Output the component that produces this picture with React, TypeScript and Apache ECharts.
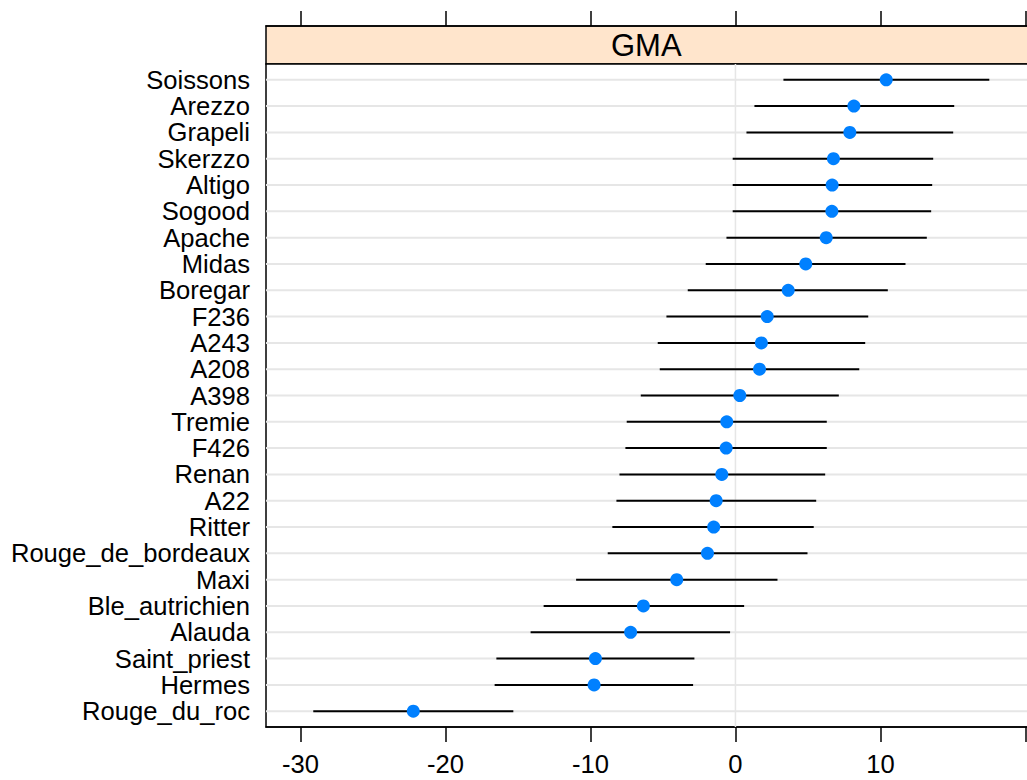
import React, { useEffect, useRef } from "react";
import * as echarts from "echarts";

const panelTitle = "GMA";
const varieties = [
  "Soissons", "Arezzo", "Grapeli", "Skerzzo", "Altigo", "Sogood", "Apache", "Midas",
  "Boregar", "F236", "A243", "A208", "A398", "Tremie", "F426", "Renan", "A22", "Ritter",
  "Rouge_de_bordeaux", "Maxi", "Ble_autrichien", "Alauda", "Saint_priest", "Hermes", "Rouge_du_roc",
];
const estimate = [
  10.4, 8.17, 7.89, 6.76, 6.67, 6.65, 6.26, 4.85, 3.64, 2.19, 1.79, 1.66, 0.3, -0.6, -0.64,
  -0.94, -1.33, -1.5, -1.93, -4.05, -6.35, -7.23, -9.66, -9.75, -22.22,
];
const lower = [
  3.31, 1.31, 0.76, -0.19, -0.19, -0.19, -0.62, -2.05, -3.29, -4.76, -5.36, -5.22, -6.53,
  -7.5, -7.59, -8.0, -8.21, -8.49, -8.81, -10.99, -13.23, -14.13, -16.49, -16.61, -29.12,
];
const upper = [
  17.51, 15.09, 15.02, 13.64, 13.57, 13.5, 13.2, 11.73, 10.51, 9.16, 8.95, 8.54, 7.13, 6.3,
  6.3, 6.19, 5.57, 5.4, 4.97, 2.9, 0.6, -0.37, -2.83, -2.92, -15.32,
];
const xTicks = [-30, -20, -10, 0, 10, 20];
const xTickLabels = [-30, -20, -10, 0, 10];
const xMin = -32.38;
const xMax = 20.8;

const FONT = "Liberation Sans, Arial, sans-serif";

export default function App() {
  const ref = useRef<HTMLDivElement>(null);
  useEffect(() => {
    if (!ref.current) return;
    const chart = echarts.init(ref.current, undefined, { renderer: "svg" });
    const rowIdx = varieties.map((_, i) => i + 1);
    const tickStyle = { color: "#000", width: 1.5 };
    const option: any = {
      animation: false,
      backgroundColor: "#ffffff",
      textStyle: { fontFamily: FONT },
      grid: [
        {
          left: 266, right: 3, top: 26, height: 38, show: true,
          backgroundColor: "#ffe5cc", borderColor: "#000", borderWidth: 1.5,
        },
        {
          left: 266, right: 3, top: 64, bottom: 53, show: true,
          backgroundColor: "#ffffff", borderColor: "#000", borderWidth: 1.5,
        },
      ],
      xAxis: [
        {
          type: "value", gridIndex: 1, position: "bottom", min: xMin, max: xMax,
          axisLine: { show: true, onZero: false, lineStyle: tickStyle },
          axisTick: { show: true, inside: false, length: 15, customValues: xTicks, lineStyle: tickStyle },
          axisLabel: { show: true, customValues: xTickLabels, fontSize: 25.6, color: "#000", margin: 24, fontFamily: FONT },
          splitLine: { show: false },
        },
        {
          type: "value", gridIndex: 0, position: "top", min: xMin, max: xMax,
          axisLine: { show: true, onZero: false, lineStyle: tickStyle },
          axisTick: { show: true, inside: false, length: 15, customValues: xTicks, lineStyle: tickStyle },
          axisLabel: { show: false },
          splitLine: { show: false },
        },
      ],
      yAxis: [
        {
          type: "value", gridIndex: 1, min: 0.4, max: 25.6, inverse: true,
          axisLine: { show: false, onZero: false }, axisTick: { show: false }, splitLine: { show: false },
          axisLabel: {
            show: true, customValues: rowIdx, fontSize: 25.6, color: "#000", margin: 16, fontFamily: FONT,
            formatter: (v: number) => varieties[Math.round(v) - 1] ?? "",
          },
        },
        { type: "value", gridIndex: 0, min: 0, max: 1, show: false, axisLine: { onZero: false } },
      ],
      graphic: [
        {
          type: "text", left: 651 - 40, top: 30, z: 100,
          style: { text: panelTitle, fontSize: 31, fill: "#000", fontFamily: FONT, width: 80, align: "center" },
        },
      ],
      series: [
        {
          type: "custom", xAxisIndex: 0, yAxisIndex: 0, z: 1, silent: true,
          data: rowIdx.map((r) => [0, r]),
          renderItem: (params: any, api: any) => {
            const cs = params.coordSys;
            const r = api.value(1);
            const p = api.coord([0, r]);
            const children: any[] = [
              {
                type: "line",
                shape: { x1: cs.x, y1: p[1], x2: cs.x + cs.width, y2: p[1] },
                style: { stroke: "#e6e6e6", lineWidth: 2 },
              },
            ];
            if (params.dataIndex === 0) {
              children.push({
                type: "line",
                shape: { x1: p[0], y1: cs.y, x2: p[0], y2: cs.y + cs.height },
                style: { stroke: "#e6e6e6", lineWidth: 1.5 },
              });
            }
            return { type: "group", children };
          },
        },
        {
          type: "custom", xAxisIndex: 0, yAxisIndex: 0, z: 2, silent: true,
          data: rowIdx.map((r, i) => [lower[i], upper[i], r]),
          renderItem: (params: any, api: any) => {
            const a = api.coord([api.value(0), api.value(2)]);
            const b = api.coord([api.value(1), api.value(2)]);
            return {
              type: "line",
              shape: { x1: a[0], y1: a[1], x2: b[0], y2: b[1] },
              style: { stroke: "#000", lineWidth: 2 },
            };
          },
        },
        {
          type: "scatter", xAxisIndex: 0, yAxisIndex: 0, z: 3, silent: true,
          symbol: "circle", symbolSize: 13,
          itemStyle: { color: "#0080ff", opacity: 1 },
          data: rowIdx.map((r, i) => [estimate[i], r]),
        },
      ],
    };
    chart.setOption(option);
    return () => chart.dispose();
  }, []);
  return (
    <div style={{ position: "absolute", left: 0, top: 0, width: 1027, height: 780, overflow: "hidden" }}>
      <div ref={ref} style={{ width: 1040, height: 780 }} />
    </div>
  );
}
